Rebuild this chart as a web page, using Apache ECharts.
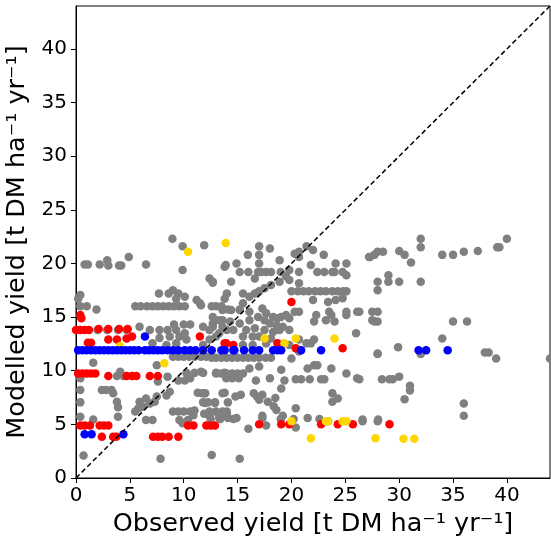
<!DOCTYPE html>
<html>
<head>
<meta charset="utf-8">
<script src="https://cdn.jsdelivr.net/npm/echarts@6/dist/echarts.min.js"></script>
<style>
html, body { margin: 0; padding: 0; background: #fff; }
#main { width: 551px; height: 537px; }
</style>
</head>
<body>
<div id="main"></div>
<script>
// observed vs modelled yield, [observed, modelled]
var greyPoints = [
  [8.95,22.3],[9.9,21.6],[11.9,21.7],[4.9,20.6],[2.9,20.3],[0.8,19.9],[1.1,19.9],[2.2,19.9],[3.0,19.8],[4.0,19.8],
  [4.2,19.8],[6.5,19.9],[9.9,19.4],[13.9,19.85],[12.4,18.6],[12.7,18.2],[14.0,17.2],[13.8,16.7],
  [17.0,21.6],[17.0,20.8],[18.0,21.4],[15.95,20.8],[17.0,20.0],[16.9,19.2],[14.9,20.0],[13.8,19.7],[15.2,19.2],
  [16.0,19.2],[17.2,19.2],[17.65,19.2],[18.1,19.2],[18.9,20.3],[19.0,19.2],[19.8,19.4],[20.7,19.2],[20.3,20.9],
  [20.7,21.1],[21.4,21.6],[22.0,21.25],[23.0,20.8],[20.7,20.6],[21.8,19.85],[22.4,19.2],[23.05,19.2],[23.8,19.2],
  [24.1,20.0],[25.1,20.0],[24.0,19.2],[24.75,19.2],[25.1,18.9],
  [12.7,18.3],[14.4,18.3],[16.6,18.6],[18.1,18.0],[17.5,17.7],[17.0,17.4],[16.6,17.2],[16.1,16.9],[15.5,16.3],
  [15.2,15.7],[15.5,17.2],[18.9,18.3],[19.8,18.45],[19.5,18.8],[20.7,18.15],
  [20.0,17.4],[20.6,17.4],[21.1,17.4],[21.6,17.4],[22.2,17.4],[22.7,17.4],[23.2,17.4],[23.8,17.4],[24.3,17.4],
  [24.8,17.4],[25.1,17.4],[22.0,16.6],[23.4,16.4],[24.1,16.6],[24.75,16.75],
  [32.0,22.3],[32.0,21.5],[40.0,22.3],[39.1,21.5],[39.3,21.5],[37.3,21.15],[36.0,21.1],[35.0,20.8],[34.0,20.8],
  [31.1,20.1],[30.0,21.15],[30.5,20.8],[28.0,21.1],[28.5,21.1],[27.3,20.6],[27.5,15.5],[27.5,14.7],[27.2,20.6],
  [27.7,20.8],[29.0,18.9],[28.0,18.3],[29.0,18.3],[30.0,18.3],[32.0,18.3],[28.0,17.5],[26.3,15.5],[28.0,15.5],
  [27.7,14.6],[28.0,14.6],[35.0,14.6],[36.3,14.6],[34.0,13.0],[29.9,12.2],[32.0,11.55],[28.0,11.55],[37.95,11.7],
  [38.3,11.7],[39.0,11.15],[44.0,11.15],
  [26.3,9.2],[28.4,9.2],[29.1,9.2],[29.4,9.2],[30.0,9.45],[31.0,8.6],[31.0,8.15],[30.5,7.35],[36.0,6.95],
  [36.0,5.8],[26.6,5.45],[28.05,5.45],
  [17.3,15.8],[17.65,15.35],[18.3,15.0],[18.7,14.9],[19.05,15.0],[19.5,15.2],[19.8,14.9],[20.3,15.5],[20.7,15.5],
  [22.3,15.2],[23.5,15.5],[23.7,15.2],[25.1,15.5],[25.1,15.2],[26.1,15.5],[22.1,14.6],[23.2,14.7],[24.0,14.6],
  [26.0,13.5],
  [11.6,16.1],[12.6,16.0],[13.5,16.0],[13.6,15.65],[14.4,15.65],[15.2,15.65],[16.1,15.5],[12.7,15.0],[13.3,14.7],
  [14.3,14.6],[15.2,14.4],[16.1,14.7],[16.9,15.0],[17.5,14.7],[18.0,14.4],[18.6,14.25],[19.2,14.1],[12.7,14.1],
  [13.6,14.1],[14.6,13.8],[15.8,13.8],[16.6,13.95],[17.5,13.8],[18.3,13.6],[18.9,13.8],[19.8,13.8],[15.5,13.2],
  [16.4,13.2],[17.0,13.2],[18.1,13.0],[15.5,12.4],[16.4,12.4],[17.65,12.55],[19.8,12.4],[20.7,12.9],[21.4,12.55],
  [22.1,12.9],
  [0.4,17.05],[0.2,16.7],[0.4,16.0],[1.0,16.0],[1.9,15.7],
  [5.5,16.0],[6.0,16.0],[6.6,16.0],[7.1,16.0],[7.6,16.0],[8.1,16.0],[8.6,16.0],[9.1,16.0],[9.6,16.0],[10.1,16.0],
  [7.7,17.2],[8.6,17.2],[9.0,17.5],[9.5,17.2],[10.1,16.9],[9.3,16.7],[11.2,16.6],[11.5,16.3],[13.0,16.0],[14.1,15.7],
  [9.1,14.3],[10.0,14.3],[10.6,14.3],[5.9,14.1],[6.85,13.8],[7.75,13.8],[8.5,13.8],[9.3,13.8],[10.1,13.5],
  [11.8,14.1],[12.7,14.4],[13.6,14.7],[12.4,13.8],[13.3,13.5],[14.0,13.8],
  [8.7,13.2],[9.6,13.2],[10.25,12.9],[7.75,13.05],[7.1,12.55],[8.4,12.4],[9.3,12.55],[12.4,12.9],[13.0,13.2],
  [11.8,12.4],[2.0,13.8],[2.9,13.8],[3.9,13.8],[4.7,13.8],
  [9.0,11.3],[9.5,11.3],[10.0,11.3],[10.5,11.3],[11.0,11.3],[11.6,11.3],[12.1,11.3],
  [1.6,10.75],[7.5,10.5],
  [4.1,9.9],[3.8,9.5],[4.4,9.5],[0.4,9.3],[10.25,9.8],[11.0,9.8],[11.8,9.8],[13.0,9.8],[13.8,9.8],[13.95,9.3],
  [9.5,9.1],[10.1,9.1],[10.6,9.3],[8.5,9.45],[7.6,9.0],[2.4,8.2],[2.8,8.2],[3.3,8.2],[3.45,7.9],[0.4,8.2],
  [8.7,8.05],[8.4,7.7],[7.3,7.1],[6.85,6.95],[6.2,6.65],[5.8,6.5],[5.5,6.2],[5.9,7.1],[6.5,7.4],[7.5,7.6],
  [11.3,7.95],[11.9,7.9],[13.6,7.9],[0.4,7.05],[3.8,7.1],[3.9,6.6],[3.9,5.7],[0.4,5.7],[1.6,5.45],[6.5,5.4],
  [7.1,5.4],
  [9.0,6.2],[9.5,6.2],[10.0,6.2],[10.6,6.2],[11.0,6.3],[12.4,6.2],[13.0,6.2],[13.6,6.2],[14.0,6.2],
  [12.0,7.0],[12.9,7.0],[14.1,7.05],[9.9,5.1],[9.6,5.4],[10.4,5.4],[10.9,5.85],[12.4,5.85],[13.3,5.85],[14.0,6.0],
  [0.7,2.1],[7.85,1.8],[12.6,2.15],
  [12.6,11.2],[13.0,11.2],[13.5,11.2],[14.0,11.2],[14.5,11.2],[15.0,11.2],[15.5,11.2],[16.0,11.2],[16.5,11.2],
  [17.0,11.2],[17.6,11.2],[18.1,11.2],
  [20.0,11.15],[20.7,11.8],[21.8,12.55],[17.0,10.4],[16.1,10.2],[19.05,10.1],[11.6,9.9],
  [13.0,9.75],[13.5,9.75],[14.0,9.75],[14.5,9.75],[15.0,9.75],[15.5,9.75],[14.5,9.3],[15.1,9.3],[16.7,9.1],
  [18.0,9.3],[19.35,9.1],[20.4,9.2],[20.9,9.2],[21.7,9.2],[22.75,9.2],[23.05,9.2],[21.5,10.2],[22.1,10.5],
  [22.4,10.5],[23.7,10.2],[25.1,9.75],[26.1,9.3],[28.0,11.6],[19.05,8.35],
  [11.7,7.9],[12.0,7.9],[13.8,7.95],[14.8,7.6],[15.3,7.75],[16.5,7.9],[16.8,7.6],[17.0,7.3],[17.3,7.75],
  [17.8,7.1],[18.5,7.45],[18.35,6.7],[23.8,7.9],[24.3,7.4],[23.8,7.1],[11.8,7.05],[12.25,7.05],[12.9,7.05],
  [20.4,6.5],[18.6,6.35],
  [11.9,6.0],[12.25,6.0],[12.4,5.8],[13.3,5.6],[13.8,5.8],[14.1,5.6],[14.9,5.6],[17.3,5.8],[19.2,5.8],[21.5,5.6],
  [22.6,5.5],[23.4,5.3],[26.6,5.3],[28.0,5.3],[12.5,5.5],[13.4,5.5],[14.6,5.5],[17.3,5.6],[19.0,5.5],[20.2,5.5],
  [16.0,4.6],[17.65,4.9],[20.4,4.7],[15.2,1.8]
];

var redPoints = [
  [0.4,15.2],[0.5,14.9],[0.0,13.8],[0.4,13.8],[0.8,13.8],[1.2,13.8],[2.1,13.9],[3.0,13.9],[4.0,13.9],[4.8,13.9],
  [3.8,12.9],[3.0,12.9],[4.7,13.0],[5.2,13.2],[1.1,12.6],[1.4,12.6],[11.5,13.2],[13.8,12.55],[13.95,12.55],
  [14.6,12.4],[18.7,12.55],[20.0,16.4],[20.4,12.1],[24.75,12.1],
  [0.2,9.75],[0.6,9.75],[1.0,9.75],[1.4,9.75],[1.8,9.75],[3.0,9.5],[4.7,9.5],[5.2,9.5],[5.6,9.5],[6.85,9.5],
  [7.6,9.5],
  [0.4,4.9],[0.8,4.9],[1.3,4.9],[2.2,4.9],[2.6,4.9],[3.0,4.9],[10.4,4.9],[10.9,4.9],[12.1,4.9],[12.5,4.9],
  [12.9,4.9],[17.0,5.0],[19.05,5.0],[19.8,5.0],[22.75,5.0],[24.3,5.0],[25.7,5.0],[29.1,5.0],
  [2.4,3.85],[3.45,3.85],[3.75,3.85],[7.15,3.85],[7.6,3.85],[8.0,3.85],[8.6,3.85],[9.5,3.85]
];

var goldPoints = [
  [10.4,21.1],[13.9,21.9],[8.2,10.7],[4.1,12.3],[17.5,13.0],[20.4,13.0],[24.0,13.0],[19.35,12.55],
  [20.0,5.3],[23.2,5.3],[23.4,5.3],[24.75,5.3],[25.1,5.3],[21.8,3.7],[27.8,3.7],[30.4,3.66],[31.4,3.66]
];

var bluePoints = [
  [0.2,11.9],[0.6,11.9],[1.0,11.9],[1.4,11.9],[1.8,11.9],[2.2,11.9],[2.6,11.9],[3.0,11.9],[3.4,11.9],[3.8,11.9],
  [4.2,11.9],[4.6,11.9],[5.0,11.9],[5.4,11.9],[5.8,11.9],[6.4,11.9],[6.8,11.9],[7.2,11.9],[7.6,11.9],[8.0,11.9],
  [8.5,11.9],[9.0,11.9],[9.5,11.9],[10.1,11.9],[10.6,11.9],[11.1,11.9],
  [11.8,11.9],[12.6,11.9],[13.5,11.9],[13.8,11.9],[14.6,11.9],[14.7,11.9],[15.6,11.9],[16.4,11.9],[17.0,11.9],
  [18.3,11.9],[18.7,11.9],[19.05,11.9],[20.9,11.9],[22.75,11.9],[31.8,11.9],[32.5,11.9],[34.5,11.9],
  [6.4,13.2],[0.8,4.07],[1.45,4.07],[4.4,4.07]
];

var oneToOne = [[0, 0], [44, 44]];
var tickValues = [0, 5, 10, 15, 20, 25, 30, 35, 40];

var chart = echarts.init(document.getElementById('main'));

function axis(name, gap, labelMargin) {
  return {
    type: 'value',
    min: 0,
    max: 44,
    interval: 5,
    name: name,
    nameLocation: 'middle',
    nameGap: gap,
    nameTextStyle: { fontFamily: 'DejaVu Sans', fontSize: 25.5, color: '#000' },
    axisLine: { show: true, onZero: false, lineStyle: { color: '#000', width: 1 } },
    axisTick: { show: true, length: 5, customValues: tickValues, lineStyle: { color: '#000' } },
    axisLabel: {
      customValues: tickValues,
      margin: labelMargin,
      fontFamily: 'DejaVu Sans',
      fontSize: 20,
      color: '#000'
    },
    splitLine: { show: false }
  };
}

function dots(data, color) {
  return {
    type: 'scatter',
    data: data,
    symbolSize: 8.5,
    itemStyle: { color: color, opacity: 1 },
    silent: true
  };
}

chart.setOption({
  animation: false,
  grid: {
    left: 76,
    right: 1,
    top: 6,
    bottom: 59,
    outerBoundsMode: 'none',
    show: true,
    borderColor: '#000',
    borderWidth: 1
  },
  xAxis: axis('Observed yield [t DM ha\u207b\u00b9 yr\u207b\u00b9]', 30, 8),
  yAxis: axis('Modelled yield [t DM ha\u207b\u00b9 yr\u207b\u00b9]', 26, 9),
  series: [
    dots(greyPoints, '#808080'),
    dots(redPoints, '#ff0000'),
    dots(goldPoints, '#ffd700'),
    dots(bluePoints, '#0000ff'),
    {
      type: 'line',
      data: oneToOne,
      symbol: 'none',
      silent: true,
      lineStyle: { color: '#000', width: 1.5, type: [5, 3] }
    }
  ]
});
</script>
</body>
</html>
